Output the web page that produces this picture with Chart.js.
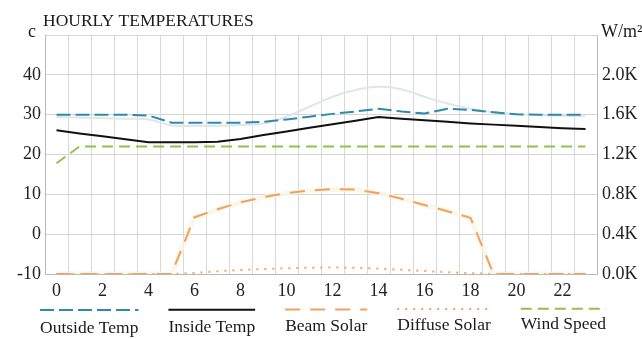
<!DOCTYPE html>
<html>
<head>
<meta charset="utf-8">
<title>Hourly Temperatures</title>
<script src="https://cdn.jsdelivr.net/npm/chart.js@4/dist/chart.umd.min.js"></script>
<style>
    html, body { margin: 0; padding: 0; background: #ffffff; }
    #grafico { display: block; }
</style>
</head>
<body>
<canvas id="grafico" width="642" height="339"></canvas>
<script>
// ==============================================================================
// 1. DATOS
// ==============================================================================

const horas = ['0','1','2','3','4','5','6','7','8','9','10','11','12','13','14','15','16','17','18','19','20','21','22','23'];

// grados C
const outsideTemp = [30, 30, 30, 30, 29.8, 28, 28, 28, 28, 28.2, 28.8, 29.5, 30.2, 30.8, 31.5, 30.8, 30.3, 31.5, 31.2, 30.6, 30.1, 30, 30, 30];
const insideTemp  = [26.1, 25.3, 24.6, 23.8, 23.1, 23.1, 23.1, 23.2, 23.9, 24.9, 25.8, 26.7, 27.6, 28.5, 29.4, 29.0, 28.6, 28.2, 27.8, 27.5, 27.2, 26.9, 26.6, 26.4];
const windSpeed   = [17.8, 22, 22, 22, 22, 22, 22, 22, 22, 22, 22, 22, 22, 22, 22, 22, 22, 22, 22, 22, 22, 22, 22, 22];
// serie tenue sin leyenda
const tempTenue   = [29.4, 29.3, 29.1, 29, 28.8, 27.3, 27.2, 27.2, 27.4, 27.8, 29.5, 32, 34.5, 36.2, 37, 36.4, 34.5, 32.8, 31.5, 30.6, 30.1, 29.9, 29.7, 29.6];

// W/m2
const beamSolar    = [0, 0, 0, 0, 0, 0, 570, 650, 720, 772, 812, 838, 852, 848, 812, 755, 692, 630, 565, 0, 0, 0, 0, 0];
const diffuseSolar = [0, 0, 0, 0, 0, 0, 10, 28, 40, 50, 58, 63, 65, 63, 55, 42, 30, 18, 8, 0, 0, 0, 0, 0];

// etiquetas de ejes
const ticksTemp  = [-10, 0, 10, 20, 30, 40];
const ticksSolar = [0, 400, 800, 1200, 1600, 2000];

const FUENTE = '"Liberation Serif", "Times New Roman", serif';

// ==============================================================================
// 2. PLUGIN: título, unidades y leyenda con la línea encima del texto
// ==============================================================================

const decoracion = {
    id: 'decoracion',
    afterDraw(chart) {
        const ctx = chart.ctx;
        const area = chart.chartArea;
        ctx.save();
        ctx.fillStyle = '#1a1a1a';
        ctx.font = '17.5px ' + FUENTE;
        ctx.textAlign = 'left';
        ctx.textBaseline = 'alphabetic';
        ctx.fillText('HOURLY TEMPERATURES', area.left - 2, 26);
        ctx.font = '18px ' + FUENTE;
        ctx.fillText('c', 28, 37);
        ctx.fillText('W/m²', 601, 37);

        // leyenda
        ctx.font = '17.5px ' + FUENTE;
        const items = chart.data.datasets.filter(d => d.enLeyenda);
        let x = 40;
        items.forEach((ds, i) => {
            const w = ctx.measureText(ds.label).width;
            const yLinea = 310 - i * 0.3;
            ctx.beginPath();
            ctx.setLineDash(ds.borderDash || []);
            ctx.strokeStyle = ds.borderColor;
            ctx.lineWidth = ds.borderWidth;
            ctx.moveTo(x, yLinea);
            ctx.lineTo(x + w, yLinea);
            ctx.stroke();
            ctx.setLineDash([]);
            ctx.fillStyle = '#1a1a1a';
            ctx.fillText(ds.label, x, 333 - i * 1.1);
            x += w + 30;
        });
        ctx.restore();
    }
};

// ==============================================================================
// 3. GRÁFICO
// ==============================================================================

function renderizarGrafico() {
    const ctx = document.getElementById('grafico').getContext('2d');

    window.myChart = new Chart(ctx, {
        type: 'line',
        data: {
            labels: horas,
            datasets: [
                {
                    label: 'Outside Temp', enLeyenda: true, data: outsideTemp, yAxisID: 'y',
                    borderColor: '#2f8aa9', borderWidth: 2, borderDash: [14, 5]
                },
                {
                    label: 'Inside Temp', enLeyenda: true, data: insideTemp, yAxisID: 'y',
                    borderColor: '#111111', borderWidth: 2
                },
                {
                    label: 'Beam Solar', enLeyenda: true, data: beamSolar, yAxisID: 'y2',
                    borderColor: '#f3a05e', borderWidth: 2, borderDash: [15, 10]
                },
                {
                    label: 'Diffuse Solar', enLeyenda: true, data: diffuseSolar, yAxisID: 'y2',
                    borderColor: '#f3a468', borderWidth: 2, borderDash: [2, 6]
                },
                {
                    label: 'Wind Speed', enLeyenda: true, data: windSpeed, yAxisID: 'y',
                    borderColor: '#93bf52', borderWidth: 2, borderDash: [11, 6]
                },
                {
                    label: 'Temp', data: tempTenue, yAxisID: 'y',
                    borderColor: '#dce7e8', borderWidth: 2, tension: 0.4, order: 2
                },
                {
                    label: 'Beam halo', data: beamSolar, yAxisID: 'y2',
                    borderColor: 'rgba(246,246,228,0.75)', borderWidth: 5, order: 1
                }
            ]
        },
        options: {
            responsive: false,
            animation: false,
            layout: { padding: { top: 35, bottom: 35, left: 0, right: 0 } },
            elements: { point: { radius: 0, hoverRadius: 0 }, line: { tension: 0 } },
            plugins: {
                legend: { display: false },
                title: { display: false },
                tooltip: { enabled: false }
            },
            scales: {
                x: {
                    offset: true,
                    grid: { offset: true, color: '#d8d8d8', drawTicks: false },
                    border: { color: '#b9b9b9' },
                    ticks: {
                        autoSkip: false, maxRotation: 0, padding: 6,
                        color: '#222', font: { family: FUENTE, size: 18 },
                        callback: (val, i) => (i % 2 === 0 ? horas[i] : '')
                    },
                    afterFit: s => { s.height = 30; }
                },
                y: {
                    position: 'left',
                    min: -10, max: 50,
                    grid: {
                        drawTicks: false,
                        color: c => (c.tick && c.tick.value % 10 === 0 ? '#d6d6d6' : '#ececec')
                    },
                    border: { color: '#b9b9b9' },
                    ticks: {
                        stepSize: 5, padding: 4,
                        color: '#222', font: { family: FUENTE, size: 18 },
                        callback: v => (ticksTemp.includes(v) ? String(v) : '')
                    },
                    afterFit: s => { s.width = 45; }
                },
                y2: {
                    position: 'right',
                    min: 0, max: 2400,
                    grid: { drawOnChartArea: false, drawTicks: false },
                    border: { color: '#b9b9b9' },
                    ticks: {
                        stepSize: 200, padding: 5,
                        color: '#222', font: { family: FUENTE, size: 18 },
                        callback: v => (ticksSolar.includes(v) ? (v / 1000).toFixed(1) + 'K' : '')
                    },
                    afterFit: s => { s.width = 45; }
                }
            }
        },
        plugins: [decoracion]
    });
}

document.addEventListener('DOMContentLoaded', renderizarGrafico);
</script>
</body>
</html>
